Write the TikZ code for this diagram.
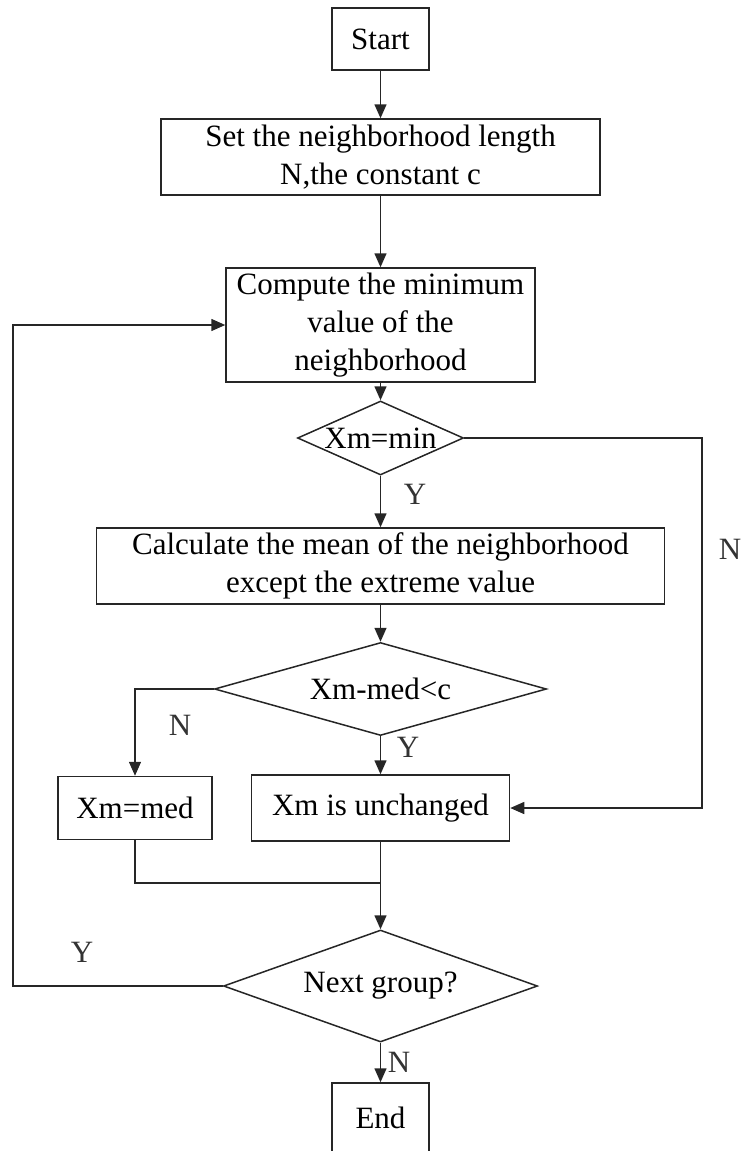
\documentclass[tikz,border=0pt]{standalone}
\usepackage{fontspec}
\setmainfont{Liberation Serif}
\usepackage{tikz}
\usetikzlibrary{shapes}
\usetikzlibrary{arrows.meta}
\usetikzlibrary{calc}

\tikzset{
	box/.style={draw=black!85, line width=1.5pt, rectangle, inner sep=0pt, align=center},
	decision/.style={draw=black!85, line width=1.5pt, diamond, inner sep=0pt, align=center},
	flow/.style={draw=black!85, line width=1.5pt, -{Triangle[length=14pt,width=12pt]}},
	link/.style={draw=black!85, line width=1.5pt},
	yn/.style={inner sep=0pt, text=black!80}
}

\begin{document}
\begin{tikzpicture}[x=1pt,y=-1pt,font=\fontsize{31}{38}\selectfont]
	\useasboundingbox (0,0) rectangle (744,1151);

	%main column
	\node[box, minimum width=97pt, minimum height=62pt] (start_node) at (380.5,39) {Start};
	\node[box, minimum width=439pt, minimum height=76pt] (set_node) at (380.5,157) {Set the neighborhood length\\N,the constant c};
	\node[box, minimum width=309pt, minimum height=114pt] (compute_node) at (380.5,325) {Compute the minimum\\value of the\\neighborhood};
	\node[decision, aspect=2.24, minimum width=166pt, minimum height=74pt] (min_node) at (380.5,438) {Xm=min};
	\node[box, minimum width=568pt, minimum height=76pt] (mean_node) at (380.5,566) {Calculate the mean of the neighborhood\\except the extreme value};
	\node[decision, aspect=3.57, minimum width=332pt, minimum height=93pt] (test_node) at (380.5,689) {Xm-med<c};

	%branches
	\node[box, minimum width=154pt, minimum height=63pt] (med_node) at (135,808) {Xm=med};
	\node[box, minimum width=258pt, minimum height=66pt] (keep_node) at (380.5,808) {Xm is unchanged};

	%loop test and end
	\node[decision, aspect=2.8, minimum width=314pt, minimum height=112pt] (next_node) at (380.5,986) {Next group?};
	\node[box, minimum width=97pt, minimum height=70pt] (end_node) at (380.5,1118) {End};

	% helper points
	\coordinate (right_rail) at (702,0);
	\coordinate (left_rail) at (13,0);
	\coordinate (merge_point) at (380.5,883);

	% Connect steps
	\draw[flow] (start_node) -- (set_node);
	\draw[flow] (set_node) -- (compute_node);
	\draw[flow] (compute_node) -- (min_node);
	\draw[flow] (min_node) -- (mean_node);
	\draw[flow] (mean_node) -- (test_node);
	\draw[flow] (test_node.west) -| (med_node.north);
	\draw[flow] (test_node) -- (keep_node);
	\draw[flow] (min_node.east) -- (min_node.east -| right_rail) |- (keep_node.east);
	\draw[link] (med_node.south) |- (merge_point);
	\draw[flow] (keep_node) -- (next_node);
	\draw[flow] (next_node.west) -- (next_node.west -| left_rail) |- (compute_node.west);
	\draw[flow] (next_node) -- (end_node);

	%yes / no marks
	\node[yn] (min_yes) at (415,494) {Y};
	\node[yn] (min_no) at (730,549) {N};
	\node[yn] (test_no) at (180,725) {N};
	\node[yn] (test_yes) at (408,747) {Y};
	\node[yn] (next_yes) at (82,952) {Y};
	\node[yn] (next_no) at (399,1062) {N};

\end{tikzpicture}
\end{document}
